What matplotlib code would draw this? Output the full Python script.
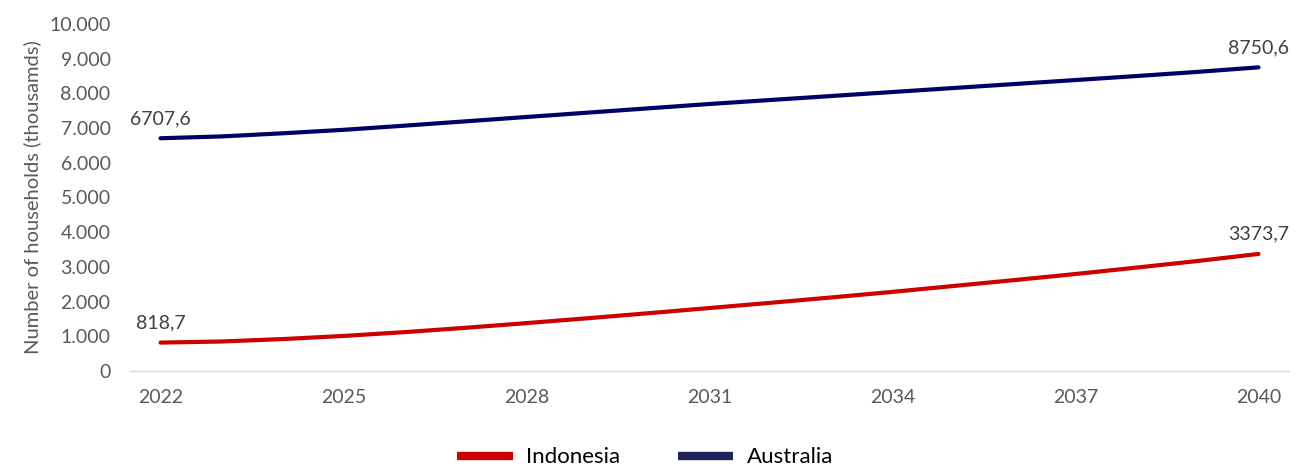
import matplotlib
matplotlib.use("Agg")
import matplotlib.pyplot as plt
from matplotlib.lines import Line2D
from matplotlib.ticker import FuncFormatter

years = list(range(2022, 2041))
indonesia = [818.7, 850, 920, 1010, 1120, 1245, 1380, 1520, 1665, 1815,
             1965, 2120, 2280, 2450, 2620, 2795, 2980, 3170, 3373.7]
australia = [6707.6, 6760, 6850, 6950, 7070, 7195, 7320, 7445, 7570, 7695,
             7810, 7925, 8040, 8155, 8270, 8385, 8500, 8620, 8750.6]
xtick_years = [2022, 2025, 2028, 2031, 2034, 2037, 2040]
series_names = ["Indonesia", "Australia"]
colors = ["#CC0000", "#000066"]
legend_colors = ["#CC0000", "#22225F"]

plt.rcParams['font.family'] = ['Lato', 'DejaVu Sans']

fig = plt.figure(figsize=(12.9, 4.7), dpi=100)
ax = fig.add_axes([130/1290, 1-371/470, (1289-130)/1290, (371-24)/470])

for vals, c in zip([indonesia, australia], colors):
    ax.plot(years, vals, color=c, lw=3, solid_capstyle='round', solid_joinstyle='round')

def fmt_label(v):
    return f"{v:.1f}".replace(".", ",")

for vals in [indonesia, australia]:
    for idx in (0, -1):
        ax.annotate(fmt_label(vals[idx]), (years[idx], vals[idx]), xytext=(0, 8),
                    textcoords='offset points', ha='center', va='bottom',
                    fontsize=14, color='#404040')

ax.set_xlim(2021.5, 2040.5)
ax.set_ylim(0, 10000)
ax.set_xticks(xtick_years)
ax.set_yticks(range(0, 10001, 1000))
ax.yaxis.set_major_formatter(FuncFormatter(lambda v, p: f"{int(v):,}".replace(",", ".")))
ax.tick_params(axis='both', length=0, labelsize=14, colors='#595959')
ax.tick_params(axis='x', pad=13)
ax.tick_params(axis='y', pad=14)
for s in ['top', 'right', 'left']:
    ax.spines[s].set_visible(False)
ax.spines['bottom'].set_color('#D9D9D9')
ax.spines['bottom'].set_linewidth(1)
ax.set_ylabel("Number of households (thousamds)", fontsize=14.5, color='#595959', labelpad=6)

handles = [Line2D([0], [0], color=c, lw=6, solid_capstyle='butt') for c in legend_colors]
fig.legend(handles, series_names, loc='center', bbox_to_anchor=(0.5, 0.027), ncol=2,
           frameon=False, fontsize=16, handlelength=2.5, handletextpad=0.6,
           columnspacing=2.6, labelcolor='#000000')

fig.savefig("out.png", dpi=100)
